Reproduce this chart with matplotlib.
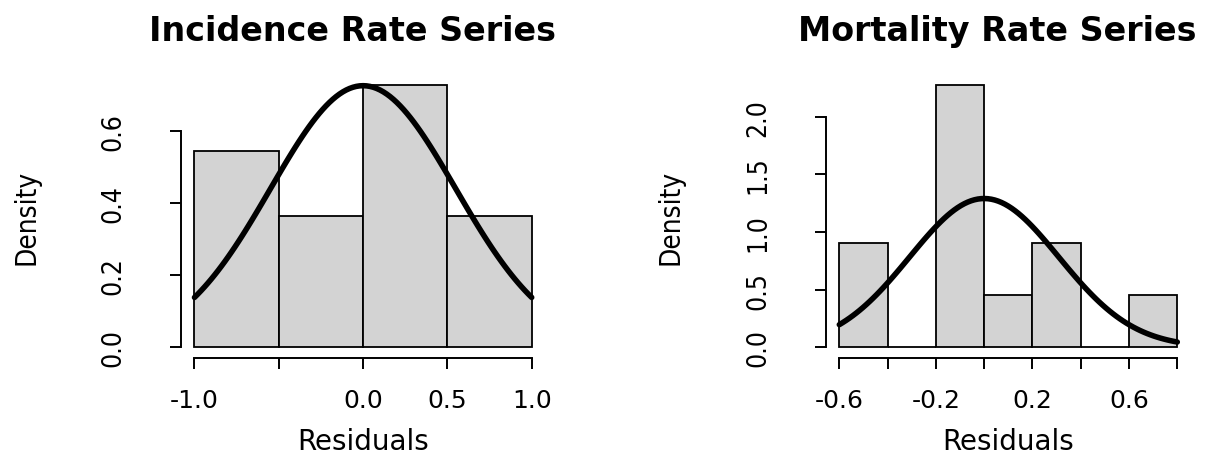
import numpy as np
import matplotlib
matplotlib.use('Agg')
import matplotlib.pyplot as plt

# residual histograms, 11 observations each
n_obs = 11

inc_edges = [-1.0, -0.5, 0.0, 0.5, 1.0]
inc_counts = [3, 2, 4, 2]
inc_mean, inc_sd = 0.0, 0.549
inc_xticks = [-1.0, -0.5, 0.0, 0.5, 1.0]
inc_xlabels = ['-1.0', '', '0.0', '0.5', '1.0']
inc_yticks = [0.0, 0.2, 0.4, 0.6]
inc_ylabels = ['0.0', '0.2', '0.4', '0.6']

mor_edges = [-0.6, -0.4, -0.2, 0.0, 0.2, 0.4, 0.6, 0.8]
mor_counts = [2, 0, 5, 1, 2, 0, 1]
mor_mean, mor_sd = 0.0, 0.309
mor_xticks = [-0.6, -0.4, -0.2, 0.0, 0.2, 0.4, 0.6, 0.8]
mor_xlabels = ['-0.6', '', '-0.2', '', '0.2', '', '0.6', '']
mor_yticks = [0.0, 0.5, 1.0, 1.5, 2.0]
mor_ylabels = ['0.0', '0.5', '1.0', '1.5', '2.0']

W, H = 1232, 456
NARROW = ['Liberation Sans Narrow', 'DejaVu Sans']


def rhist(ax, edges, counts, mean, sd, title, xticks, xlabels, yticks, ylabels):
    '''
    Density histogram with a fitted normal curve on top, drawn with
    R-like detached axes.
    '''
    edges = np.array(edges)
    counts = np.array(counts, dtype=float)
    widths = np.diff(edges)
    dens = counts / (n_obs * widths)

    ax.bar(edges[:-1], dens, width=widths, align='edge', color='#d3d3d3',
           edgecolor='black', linewidth=1.3, zorder=2)

    xs = np.linspace(edges[0], edges[-1], 101)
    ys = np.exp(-0.5 * ((xs - mean) / sd) ** 2) / (sd * np.sqrt(2 * np.pi))
    ax.plot(xs, ys, color='black', linewidth=4.0, zorder=3,
            solid_capstyle='round')

    # 4% padding like R's default axis style
    xr = edges[-1] - edges[0]
    ax.set_xlim(edges[0] - 0.04 * xr, edges[-1] + 0.04 * xr)
    ytop = dens.max()
    ax.set_ylim(-0.04 * ytop, 1.04 * ytop)

    for s in ['top', 'right']:
        ax.spines[s].set_visible(False)
    ax.spines['left'].set_bounds(yticks[0], yticks[-1])
    ax.spines['bottom'].set_bounds(xticks[0], xticks[-1])
    ax.spines['left'].set_linewidth(1.4)
    ax.spines['bottom'].set_linewidth(1.4)

    ax.set_xticks(xticks)
    ax.set_xticklabels(xlabels, fontsize=18, family='DejaVu Sans')
    ax.set_yticks(yticks)
    ax.set_yticklabels(ylabels, fontsize=19, family=NARROW,
                       fontstretch='condensed',
                       rotation=90, va='center', ha='right')
    ax.tick_params(axis='x', length=8, width=1.4, pad=14)
    ax.tick_params(axis='y', length=8, width=1.4, pad=31)

    ax.set_xlabel('Residuals', fontsize=20, family='DejaVu Sans')
    ax.xaxis.set_label_coords(0.5, -0.245)
    ax.set_ylabel('Density', fontsize=20, family=NARROW,
                  fontstretch='condensed')
    ax.yaxis.set_label_coords(-0.387, 0.5)

    ax.set_title(title, fontsize=24, fontweight='bold', family='DejaVu Sans',
                 x=0.47, pad=25)
    ax.set_facecolor('none')


fig = plt.figure(figsize=(W / 100, H / 100), dpi=100)
ax1 = fig.add_axes([181 / W, 1 - 358.7 / H, 364.2 / W, 282.7 / H])
ax2 = fig.add_axes([825.8 / W, 1 - 358.7 / H, 365 / W, 282.7 / H])

rhist(ax1, inc_edges, inc_counts, inc_mean, inc_sd, 'Incidence Rate Series',
      inc_xticks, inc_xlabels, inc_yticks, inc_ylabels)
rhist(ax2, mor_edges, mor_counts, mor_mean, mor_sd, 'Mortality Rate Series',
      mor_xticks, mor_xlabels, mor_yticks, mor_ylabels)

plt.savefig('out.png', dpi=100)
